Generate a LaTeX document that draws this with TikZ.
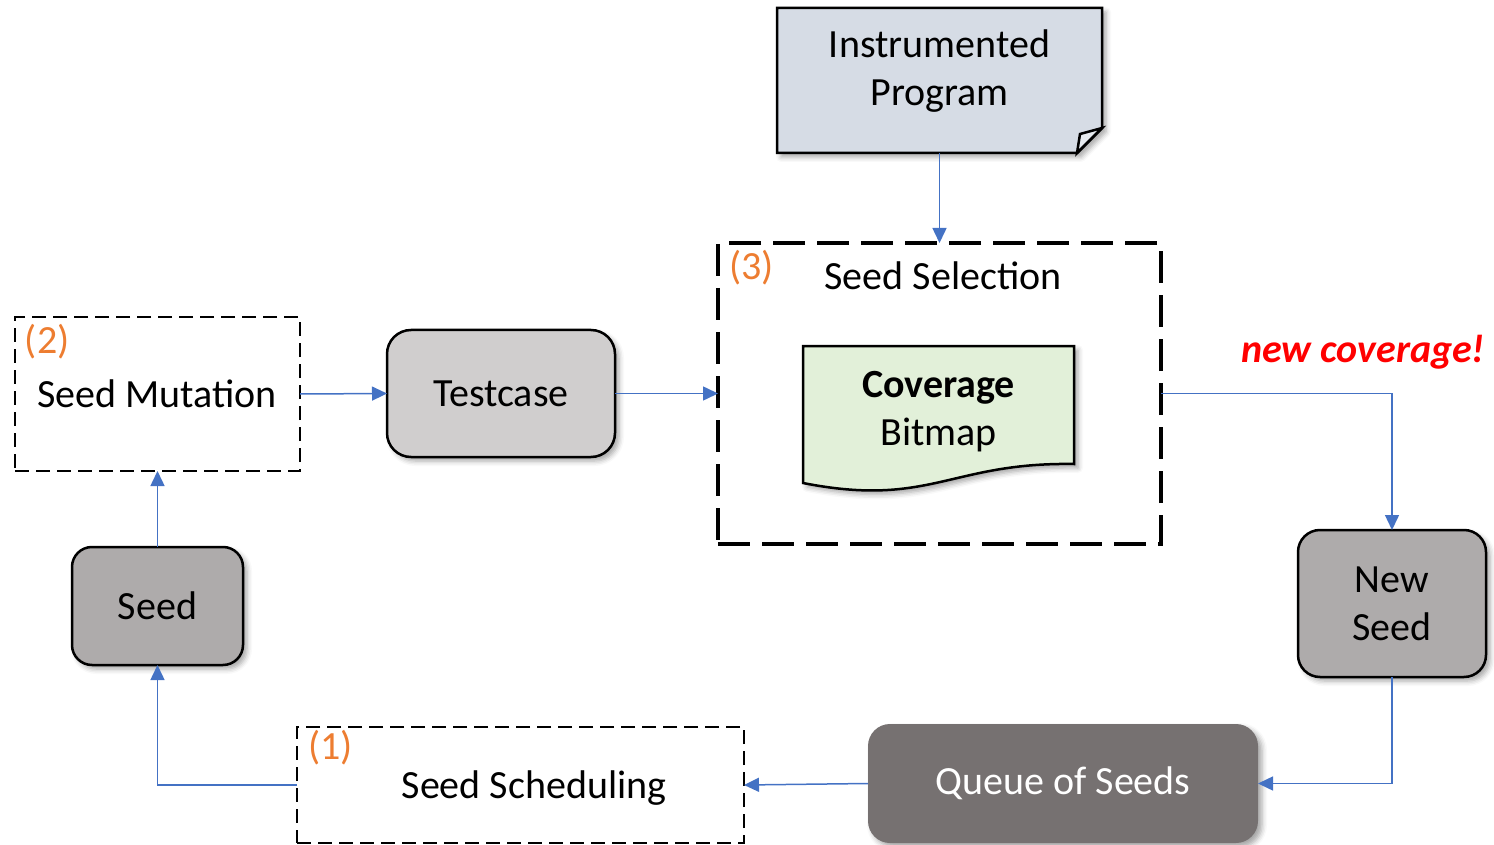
\documentclass[tikz,border=0pt]{standalone}
\usepackage{fontspec}
\setmainfont{Carlito}
\usetikzlibrary{arrows.meta,shadows.blur}
\definecolor{arrowblue}{HTML}{4472C4}
\definecolor{numorange}{HTML}{ED7D31}
\definecolor{progfill}{HTML}{D6DCE5}
\definecolor{covfill}{HTML}{E2F0D9}
\definecolor{testfill}{HTML}{D0CECE}
\definecolor{seedfill}{HTML}{AEABAB}
\definecolor{queuefill}{HTML}{767171}
\begin{document}
\begin{tikzpicture}[x=0.5pt,y=-0.5pt,
  every node/.style={font=\fontsize{20}{24}\selectfont, inner sep=0pt, outer sep=0pt},
  shad/.style={blur shadow={shadow xshift=2pt,shadow yshift=-2pt,shadow blur radius=2.5pt,shadow opacity=35}},
  rbox/.style={draw=black, line width=1.25pt, rounded corners=11pt, shad},
  dbox/.style={draw=black, line width=1.2pt, dash pattern=on 7pt off 3.5pt},
  bigdbox/.style={draw=black, line width=1.75pt, dash pattern=on 16pt off 6pt},
  conn/.style={draw=arrowblue, line width=0.75pt, -{Triangle[length=7.5pt,width=7pt]}},
  num/.style={text=numorange, anchor=base west},
  lbl/.style={anchor=base},
]
\useasboundingbox (0,0) rectangle (1494,845);

% Instrumented Program (note shape)
\node[minimum width=162.5pt, minimum height=72.5pt] (prog) at (939.5,80.5) {};
\path[draw=black, line width=1.25pt, fill=progfill, shad]
  (prog.north west) -- (prog.north east) -- ([yshift=12.5pt]prog.south east)
  -- ([xshift=-12.5pt]prog.south east) -- (prog.south west) -- cycle;
\draw[line width=1.25pt, fill=progfill!60!white]
  ([yshift=12.5pt]prog.south east) -- ([xshift=-11pt,yshift=9.5pt]prog.south east)
  -- ([xshift=-12.5pt]prog.south east) -- cycle;
\node[align=center] (progtxt) at (939.5,71) {Instrumented\\Program};

% Seed Selection
\node[bigdbox, minimum width=221.5pt, minimum height=150.5pt] (sel) at (939.5,393.5) {};
\node[num] (n3) at (729,280) {(3)};
\node[lbl] (seltxt) at (943,290) {Seed Selection};

% Coverage Bitmap (document shape)
\node[minimum width=135.5pt, minimum height=59pt] (cov) at (938.5,405) {};
\path[draw=black, line width=1.25pt, fill=covfill, shad]
  (803,346) -- (1074,346) -- (1074,464)
  .. controls (950,462) and (930,508) .. (803,483) -- cycle;
\node[align=center] (covtxt) at (938.5,412) {\textbf{Coverage}\\Bitmap};

% Seed Mutation
\node[dbox, minimum width=142.5pt, minimum height=77pt] (mut) at (157.5,394) {};
\node[num] (n2) at (25,353) {(2)};
\node[lbl] (muttxt) at (157,407) {Seed Mutation};

% Testcase
\node[rbox, fill=testfill, rounded corners=12pt, minimum width=114pt, minimum height=63.5pt] (test) at (501,393.5) {Testcase};

% new coverage
\node[anchor=base east, text=red, font=\fontsize{20}{24}\selectfont\bfseries\itshape] (newcov) at (1485,362) {new coverage!};

% New Seed
\node[rbox, fill=seedfill, minimum width=94pt, minimum height=73.5pt, align=center] (newseed) at (1392,603.5) {New\\Seed};

% Queue of Seeds
\node[fill=queuefill, rounded corners=11pt, minimum width=195pt, minimum height=59.5pt, text=white, shad] (queue) at (1063,783.5) {Queue of Seeds};

% Seed Scheduling
\node[dbox, minimum width=223.5pt, minimum height=58pt] (sched) at (520.5,785) {};
\node[num] (n1) at (308,759) {(1)};
\node[lbl] (schedtxt) at (534,798) {Seed Scheduling};

% Seed
\node[rbox, fill=seedfill, rounded corners=10pt, minimum width=85.5pt, minimum height=59pt] (seed) at (157.5,606) {Seed};

% Connectors
\draw[conn] (mut.east) -- (test.west);
\draw[conn] (test.east) -- (sel.west);
\draw[conn] (prog.south) -- (sel.north);
\draw[conn] (sel.east) -| (newseed.north);
\draw[conn] (newseed.south) |- (queue.east);
\draw[conn] (queue.west) -- (sched.east);
\draw[conn] (sched.west) -| (seed.south);
\draw[conn] (seed.north) -- (mut.south);
\end{tikzpicture}
\end{document}
